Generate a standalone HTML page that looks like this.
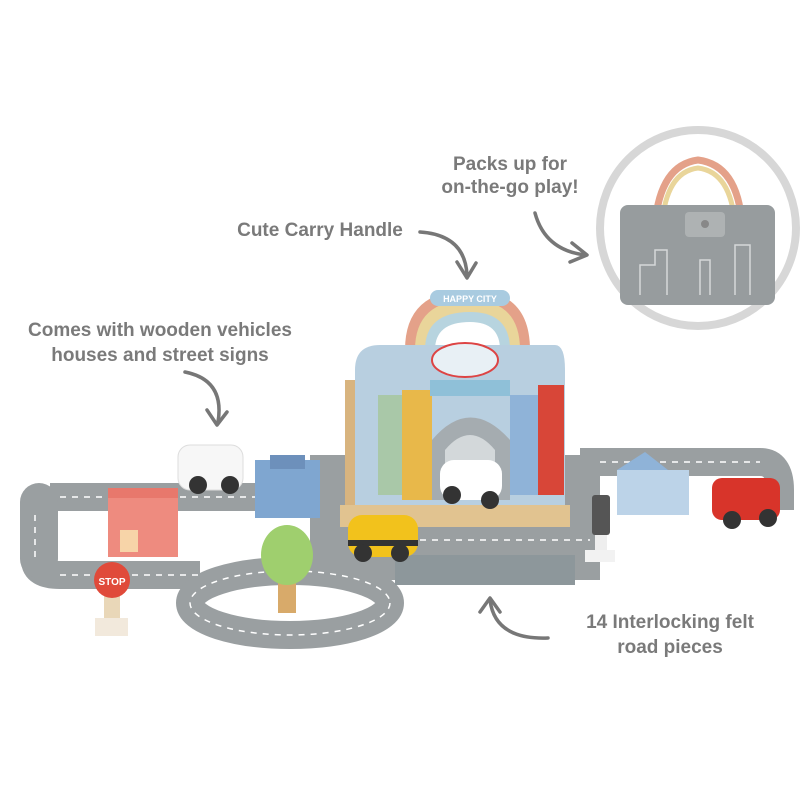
<!DOCTYPE html>
<html><head><meta charset="utf-8"><style>
html,body{margin:0;padding:0;background:#fff;width:800px;height:800px;overflow:hidden}
svg{display:block}
text{font-family:"Liberation Sans",sans-serif;font-weight:bold;fill:#7a7a7a}
</style></head><body>
<svg width="800" height="800" viewBox="0 0 800 800">
<circle cx="698" cy="228" r="98" fill="#fff" stroke="#d7d7d7" stroke-width="8"/>
<path d="M655 225 Q660 165 698 160 Q738 165 742 225" fill="none" stroke="#e4a189" stroke-width="7"/>
<path d="M662 225 Q666 172 698 168 Q731 172 735 225" fill="none" stroke="#e9d59a" stroke-width="5"/>
<rect x="620" y="205" width="155" height="100" rx="8" fill="#979c9e"/>
<rect x="685" y="212" width="40" height="25" rx="4" fill="#aeb2b3"/>
<circle cx="705" cy="224" r="4" fill="#888"/>
<path d="M640 295 v-30 h15 v-15 h12 v45 M700 295 v-35 h10 v35 M735 295 v-50 h15 v50" fill="none" stroke="#d5d8d9" stroke-width="1.5"/>

<text x="510" y="170" font-size="19" text-anchor="middle">Packs up for</text>
<text x="510" y="193" font-size="19" text-anchor="middle">on-the-go play!</text>
<text x="320" y="236" font-size="19" text-anchor="middle">Cute Carry Handle</text>
<text x="160" y="336" font-size="19" text-anchor="middle">Comes with wooden vehicles</text>
<text x="160" y="361" font-size="19" text-anchor="middle">houses and street signs</text>
<text x="670" y="628" font-size="19" text-anchor="middle">14 Interlocking felt</text>
<text x="670" y="653" font-size="19" text-anchor="middle">road pieces</text>

<g fill="none" stroke="#777" stroke-width="3.5" stroke-linecap="round" stroke-linejoin="round">
<path d="M535 213 Q545 250 585 255"/><path d="M572 243 L587 255 L570 262"/>
<path d="M420 232 Q465 235 467 275"/><path d="M457 262 L467 278 L476 263"/>
<path d="M185 372 Q225 380 218 422"/><path d="M207 410 L217 425 L227 412"/>
<path d="M548 638 Q495 640 490 600"/><path d="M480 612 L490 598 L500 612"/>
</g>

<g fill="none" stroke="#9a9fa1" stroke-width="28" stroke-linejoin="round">
<path d="M50 497 H300 M35 510 V560 Q35 575 60 575 H200 M330 470 H600 M580 462 H760 Q780 462 780 490 V510"/>
<ellipse cx="290" cy="603" rx="100" ry="32"/>
</g>
<rect x="20" y="483" width="38" height="95" rx="19" fill="#9a9fa1"/>
<rect x="310" y="455" width="290" height="125" fill="#9a9fa1"/>
<rect x="395" y="555" width="180" height="30" fill="#8d979b"/>
<ellipse cx="290" cy="603" rx="70" ry="16" fill="#fff"/>
<g fill="none" stroke="#fff" stroke-width="1.5" stroke-dasharray="6 6">
<path d="M60 497 H300 M35 515 V560 M60 575 H200 M600 462 H760"/>
<ellipse cx="290" cy="603" rx="100" ry="32"/>
<path d="M420 540 H590"/>
</g>

<path d="M405 350 Q405 290 470 290 Q530 290 530 350 Z" fill="#e4a189"/>
<path d="M415 350 Q415 300 470 300 Q520 300 520 350 Z" fill="#e9d59a"/>
<path d="M425 350 Q425 312 470 312 Q510 312 510 350 Z" fill="#b7d4df"/>
<path d="M435 350 Q435 322 470 322 Q500 322 500 350 Z" fill="#fff"/>
<rect x="430" y="290" width="80" height="16" rx="8" fill="#a9cbe0"/>
<text x="470" y="302" font-size="9" text-anchor="middle" style="fill:#fff">HAPPY CITY</text>
<rect x="345" y="380" width="220" height="135" fill="#d8b47f"/>
<path d="M355 510 V370 Q355 345 380 345 H555 Q565 345 565 370 V510 Z" fill="#b8cfe0"/>
<rect x="378" y="395" width="30" height="100" fill="#a9c8a8"/>
<rect x="402" y="390" width="30" height="110" fill="#e8b84a"/>
<rect x="510" y="395" width="30" height="100" fill="#8fb3d8"/>
<rect x="538" y="385" width="26" height="110" fill="#d84638"/>
<path d="M432 500 V440 Q470 395 510 440 V500 Z" fill="#a5acb0"/>
<path d="M445 500 V450 Q470 420 495 450 V500 Z" fill="#d3d8da"/>
<rect x="430" y="380" width="80" height="16" fill="#8fc0d8"/>
<ellipse cx="465" cy="360" rx="33" ry="17" fill="#e8f0f5" stroke="#d44" stroke-width="2"/>
<rect x="340" y="505" width="230" height="22" fill="#e1c390"/>
<rect x="440" y="460" width="62" height="40" rx="14" fill="#fff"/>
<circle cx="452" cy="495" r="9" fill="#333"/><circle cx="490" cy="500" r="9" fill="#333"/>

<rect x="178" y="445" width="65" height="45" rx="12" fill="#f7f7f7" stroke="#ddd"/>
<circle cx="198" cy="485" r="9" fill="#333"/><circle cx="230" cy="485" r="9" fill="#333"/>
<rect x="255" y="460" width="65" height="58" fill="#7fa6d0"/>
<rect x="270" y="455" width="35" height="14" fill="#6d90bb"/>
<rect x="108" y="492" width="70" height="65" fill="#ee8b7f"/>
<rect x="108" y="488" width="70" height="10" fill="#e8786c"/>
<rect x="120" y="530" width="18" height="22" fill="#f7d4a8"/>
<rect x="104" y="590" width="16" height="30" fill="#e9d7b8"/>
<circle cx="112" cy="580" r="18" fill="#e04a3a"/>
<text x="112" y="585" font-size="10" text-anchor="middle" style="fill:#fff">STOP</text>
<rect x="95" y="618" width="33" height="18" fill="#f2e9dc"/>
<rect x="278" y="575" width="18" height="38" fill="#d8aa6a"/>
<ellipse cx="287" cy="555" rx="26" ry="30" fill="#9fcf6e"/>
<rect x="348" y="515" width="70" height="42" rx="14" fill="#f2c21c"/>
<rect x="348" y="540" width="70" height="6" fill="#333"/>
<circle cx="363" cy="553" r="9" fill="#333"/><circle cx="400" cy="553" r="9" fill="#333"/>
<rect x="592" y="495" width="18" height="40" rx="3" fill="#555"/>
<rect x="595" y="535" width="12" height="20" fill="#eee"/>
<rect x="585" y="550" width="30" height="12" fill="#f2f2f2"/>
<path d="M617 470 L645 452 L668 470 Z" fill="#8fb3d8"/>
<rect x="617" y="470" width="72" height="45" fill="#bcd3e8"/>
<rect x="712" y="478" width="68" height="42" rx="10" fill="#d8342a"/>
<circle cx="732" cy="520" r="9" fill="#333"/><circle cx="768" cy="518" r="9" fill="#333"/>
</svg>
</body></html>
